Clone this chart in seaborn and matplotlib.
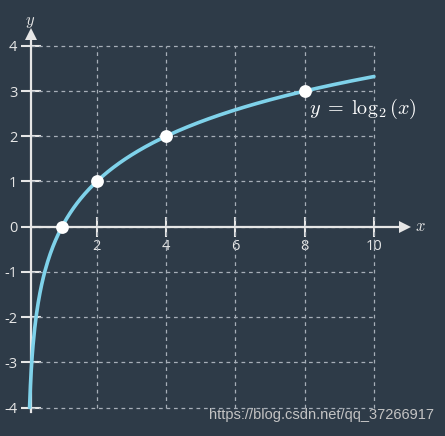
import numpy as np
import pandas as pd
import matplotlib
matplotlib.use("Agg")
import matplotlib.pyplot as plt
import seaborn as sns

# ---- data ----
key_x = [1, 2, 4, 8]
key_y = [0, 1, 2, 3]
x_ticks = [2, 4, 6, 8, 10]
y_ticks = [-4, -3, -2, -1, 0, 1, 2, 3, 4]
curve_x = np.linspace(0.0625, 10, 400)
curve_y = np.log2(curve_x)

BG = "#2e3b48"
FG = "#e6e6e6"
GRID = "#a7afb8"
CURVE = "#7fd2ea"

sns.set_theme(style="white")
plt.rcParams["font.family"] = ["Open Sans", "DejaVu Sans"]
plt.rcParams["mathtext.fontset"] = "cm"

fig = plt.figure(figsize=(4.45, 4.36), dpi=100, facecolor=BG)
ax = fig.add_axes([0, 0, 1, 1])
ax.set_facecolor(BG)

# pixel mapping: x=0 at 27.4px, 34.65 px/unit; y=0 at 226.7px from top, 45.2 px/unit
X0, SX = 27.4, 34.65
Y0, SY = 226.7, 45.2
ax.set_xlim(-X0 / SX, (445 - X0) / SX)
ax.set_ylim(-(436 - Y0) / SY, Y0 / SY)
AX_X = 0.09  # vertical axis sits slightly right of x=0 in the reference

# grid
ax.hlines(y_ticks, AX_X, 10, colors=GRID, linestyles=(0, (3, 3)), lw=0.9, zorder=1)
ax.vlines(x_ticks, -4, 4, colors=GRID, linestyles=(0, (3, 3)), lw=0.9, zorder=1)

# curve and points
df = pd.DataFrame({"x": curve_x, "y": curve_y})
sns.lineplot(data=df, x="x", y="y", ax=ax, color=CURVE, lw=2.6, zorder=3,
             sort=False, estimator=None)
pts = pd.DataFrame({"x": key_x, "y": key_y})
sns.scatterplot(data=pts, x="x", y="y", ax=ax, color="white", s=85,
                edgecolor="white", linewidth=0, zorder=5)

# axes spines through origin
for s in ["top", "right"]:
    ax.spines[s].set_visible(False)
ax.spines["left"].set_position(("data", AX_X))
ax.spines["bottom"].set_position(("data", 0))
ax.spines["left"].set_bounds(-4.1, 4.2)
ax.spines["bottom"].set_bounds(AX_X, 10.8)
for s in ["left", "bottom"]:
    ax.spines[s].set_color(FG)
    ax.spines[s].set_linewidth(1.6)
    ax.spines[s].set_zorder(2)
ax.plot([10.9], [0], marker=">", color=FG, ms=8, clip_on=False, zorder=2, mew=0)
ax.plot([AX_X], [4.27], marker="^", color=FG, ms=8, clip_on=False, zorder=2, mew=0)

ax.set_xticks(x_ticks)
ax.set_yticks(y_ticks)
ax.set_xticklabels([str(v) for v in x_ticks])
ax.set_yticklabels([str(v) for v in y_ticks])
ax.tick_params(bottom=True, left=True, direction="inout", length=15, width=1.5,
               colors=FG, labelcolor=FG, labelsize=10.5)
ax.tick_params(axis="y", pad=2)
ax.tick_params(axis="x", pad=1)
ax.set_xlabel("")
ax.set_ylabel("")

ax.text(AX_X, 4.52, r"$y$", color=FG, fontsize=12, ha="center", va="center")
ax.text(11.35, 0, r"$x$", color=FG, fontsize=12, ha="center", va="center")
ax.text(8.12, 2.6, r"$y\;=\;\log_2(x)$", color="white", fontsize=14.5,
        ha="left", va="center", zorder=6)

fig.text(434 / 445, 1 - 415 / 436, "https://blog.csdn.net/qq_37266917",
         color="#c4c4c4", fontsize=10.5, family=["Liberation Sans"],
         ha="right", va="center")

fig.savefig("out.png", dpi=100, facecolor=BG)
